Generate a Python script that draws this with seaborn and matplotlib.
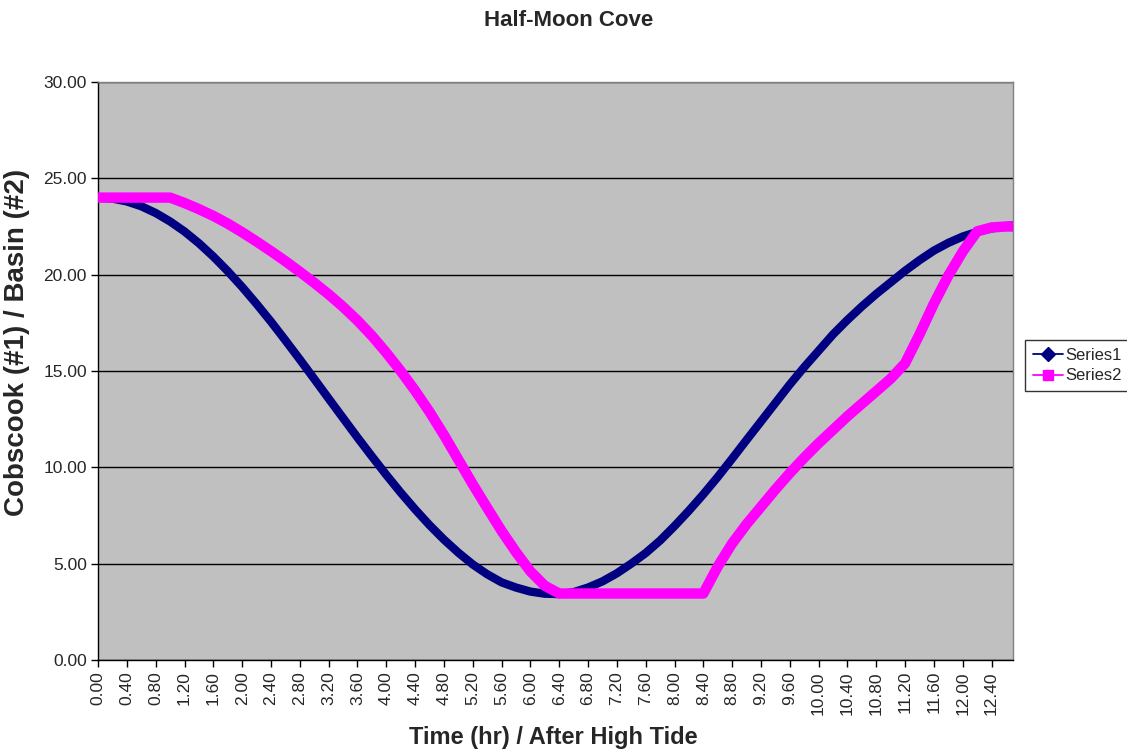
import numpy as np
import pandas as pd
import seaborn as sns
import matplotlib.pyplot as plt
from matplotlib.lines import Line2D

# time after high tide (hr)
hours = [0.0, 0.2, 0.4, 0.6, 0.8, 1.0, 1.2, 1.4, 1.6, 1.8,
         2.0, 2.2, 2.4, 2.6, 2.8, 3.0, 3.2, 3.4, 3.6, 3.8,
         4.0, 4.2, 4.4, 4.6, 4.8, 5.0, 5.2, 5.4, 5.6, 5.8,
         6.0, 6.2, 6.4, 6.6, 6.8, 7.0, 7.2, 7.4, 7.6, 7.8,
         8.0, 8.2, 8.4, 8.6, 8.8, 9.0, 9.2, 9.4, 9.6, 9.8,
         10.0, 10.2, 10.4, 10.6, 10.8, 11.0, 11.2, 11.4, 11.6, 11.8,
         12.0, 12.2, 12.4, 12.6, 12.7]

# Series1 - Cobscook
cobscook = [24.00, 23.95, 23.80, 23.55, 23.20, 22.76, 22.24, 21.63, 20.94, 20.18,
            19.36, 18.48, 17.56, 16.59, 15.60, 14.59, 13.57, 12.56, 11.55, 10.57,
            9.61, 8.69, 7.82, 7.00, 6.25, 5.57, 4.96, 4.45, 4.03, 3.76,
            3.55, 3.44, 3.42, 3.52, 3.76, 4.08, 4.50, 5.00, 5.55, 6.20,
            6.95, 7.75, 8.60, 9.50, 10.45, 11.42, 12.38, 13.34, 14.30, 15.20,
            16.05, 16.90, 17.65, 18.35, 19.00, 19.60, 20.20, 20.75, 21.25, 21.65,
            21.98, 22.22, 22.40, 22.52, 22.56]

# Series2 - Basin
basin = [24.00, 24.00, 24.00, 24.00, 24.00, 24.00, 23.72, 23.40, 23.05, 22.65,
         22.20, 21.72, 21.22, 20.70, 20.15, 19.58, 18.98, 18.33, 17.62, 16.83,
         15.95, 15.00, 13.98, 12.88, 11.68, 10.40, 9.12, 7.90, 6.70, 5.60,
         4.60, 3.85, 3.45, 3.45, 3.45, 3.45, 3.45, 3.45, 3.45, 3.45,
         3.45, 3.45, 3.45, 4.85, 6.05, 7.05, 7.95, 8.85, 9.70, 10.50,
         11.25, 11.95, 12.65, 13.30, 13.95, 14.60, 15.40, 16.90, 18.50, 19.95,
         21.20, 22.25, 22.45, 22.50, 22.50]

sns.set_style("white")
plt.rcParams['font.family'] = ['Liberation Sans', 'DejaVu Sans']

fig = plt.figure(figsize=(11.27, 7.51), dpi=100)
ax = fig.add_axes([0.087, 0.1212, 0.812, 0.7696])
ax.set_facecolor('#C0C0C0')

sns.lineplot(x=hours, y=cobscook, ax=ax, color='#000080', linewidth=6, sort=False,
             solid_capstyle='butt', solid_joinstyle='round', zorder=3)
sns.lineplot(x=hours, y=basin, ax=ax, color='#FF00FF', linewidth=7.5, sort=False,
             solid_capstyle='butt', solid_joinstyle='round', zorder=4)

ax.set_xlim(0, 12.7)
ax.set_ylim(0, 30)
ax.set_yticks(np.arange(0, 31, 5))
ax.set_yticklabels([f'{v:.2f}' for v in np.arange(0, 31, 5)], fontsize=12.5)
ax.yaxis.grid(True, color='black', linewidth=1)
ax.set_axisbelow(True)

major = np.round(np.arange(0, 12.41, 0.4), 2)
ax.set_xticks(major)
ax.set_xticklabels([f'{v:.2f}' for v in major], rotation=90, fontsize=12.5)
ax.set_xticks(np.arange(0, 12.71, 0.05), minor=True)
ax.tick_params(axis='x', which='both', direction='out', length=5, width=1, color='black', pad=3)
ax.tick_params(axis='y', direction='out', length=5, width=1, color='black', left=True, pad=3)
ax.tick_params(axis='x', bottom=True)

for s in ['left', 'bottom']:
    ax.spines[s].set_color('black')
    ax.spines[s].set_linewidth(1)
for s in ['top', 'right']:
    ax.spines[s].set_color('#808080')
    ax.spines[s].set_linewidth(1)

fig.text(569 / 1127, 1 - 20 / 751, 'Half-Moon Cove', fontsize=16, fontweight='bold',
         ha='center', va='center')
ax.set_xlabel('Time (hr) / After High Tide', fontsize=17, fontweight='bold')
ax.xaxis.set_label_coords(0.498, -0.115)
ax.set_ylabel('Cobscook (#1) / Basin (#2)', fontsize=20, fontweight='bold')
ax.yaxis.set_label_coords(-0.074, 0.55)

handles = [Line2D([], [], color='#000080', marker='D', markersize=7, linewidth=1.3),
           Line2D([], [], color='#FF00FF', marker='s', markersize=7, linewidth=1.3)]
leg = fig.legend(handles, ['Series1', 'Series2'], loc='upper left',
                 bbox_to_anchor=(1025 / 1127, 1 - 340 / 751), fontsize=12, frameon=True,
                 fancybox=False, borderpad=0.45, handlelength=1.8, handletextpad=0.15,
                 labelspacing=0.35, borderaxespad=0)
leg.get_frame().set_edgecolor('black')
leg.get_frame().set_linewidth(1)

fig.savefig('out.png', dpi=100, facecolor='white')
